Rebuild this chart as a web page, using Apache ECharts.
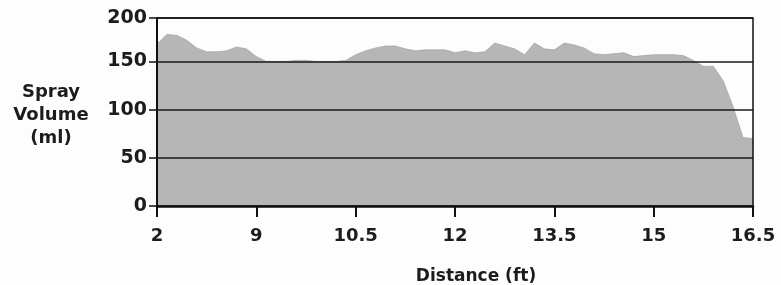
<!DOCTYPE html>
<html><head><meta charset="utf-8">
<script src="https://cdn.jsdelivr.net/npm/echarts@6/dist/echarts.min.js"></script>
<style>html,body{margin:0;padding:0;background:#fff}#c{width:781px;height:285px}</style>
</head><body><div id="c"></div>
<script>
// Tick labels on the distance axis (equally spaced in the original figure)
const tickLabels = ['2', '9', '10.5', '12', '13.5', '15', '16.5'];
const samplesPerSegment = 10;
// Spray volume (ml) read along the distance axis, 10 samples per labelled segment
const sprayVolume = [
  168, 178, 177, 172, 164, 160, 160, 161, 165, 163,
  155, 150, 150, 150, 151, 151, 150, 150, 150, 151,
  157, 161, 164, 166, 166, 163, 161, 162, 162, 162,
  159, 161, 159, 160, 169, 166, 163, 157, 169, 163,
  162, 169, 167, 164, 158, 157, 158, 159, 155, 156,
  157, 157, 157, 156, 151, 145, 145, 130, 103, 71,
  70
];
const categories = sprayVolume.map((_, i) => String(i));
const yTicks = [0, 50, 100, 150];
const yTopLabel = '200';

const font = 'DejaVu Sans';
const txt = '#1c1c1c';
const chart = echarts.init(document.getElementById('c'));
chart.setOption({
  animation: false,
  backgroundColor: '#fdfdfd',
  title: [
    { text: 'Spray\nVolume\n(ml)', left: 46, top: 76, textAlign: 'center',
      textStyle: { fontFamily: font, fontWeight: 'bold', fontSize: 18, lineHeight: 23, color: txt } },
    { text: 'Distance (ft)', left: 471, top: 263, textAlign: 'center',
      textStyle: { fontFamily: font, fontWeight: 'bold', fontSize: 17, color: txt } }
  ],
  grid: { left: 157, right: 28, top: 18, bottom: 79, show: true, borderColor: '#111', borderWidth: 1.5, z: 10 },
  xAxis: {
    type: 'category', data: categories, boundaryGap: false,
    axisLine: { lineStyle: { color: '#111', width: 2.5 } },
    axisTick: { interval: samplesPerSegment - 1, length: 11, lineStyle: { color: '#111', width: 2 } },
    axisLabel: { interval: samplesPerSegment - 1, margin: 21, fontFamily: font, fontWeight: 'bold', fontSize: 18, color: txt,
      formatter: (v, i) => tickLabels[Math.round(i / samplesPerSegment)] },
    splitLine: { show: false }
  },
  yAxis: {
    type: 'value', min: 0, max: 195, interval: 50, z: 5,
    axisLine: { show: true, lineStyle: { color: '#111', width: 2 } },
    axisTick: { show: true, length: 8, lineStyle: { color: '#111', width: 1.5 } },
    axisLabel: { margin: 10, fontFamily: font, fontWeight: 'bold', fontSize: 19, color: txt,
      formatter: v => (yTicks.indexOf(v) >= 0 ? String(v) : yTopLabel) },
    splitLine: { show: true, lineStyle: { color: '#1a1a1a', width: 1.5 } }
  },
  series: [{
    type: 'line', data: sprayVolume, symbol: 'none', z: 2,
    lineStyle: { width: 0.6, color: '#9a9a9a' },
    areaStyle: { color: '#b6b6b6', opacity: 1 }
  }]
});
</script></body></html>
